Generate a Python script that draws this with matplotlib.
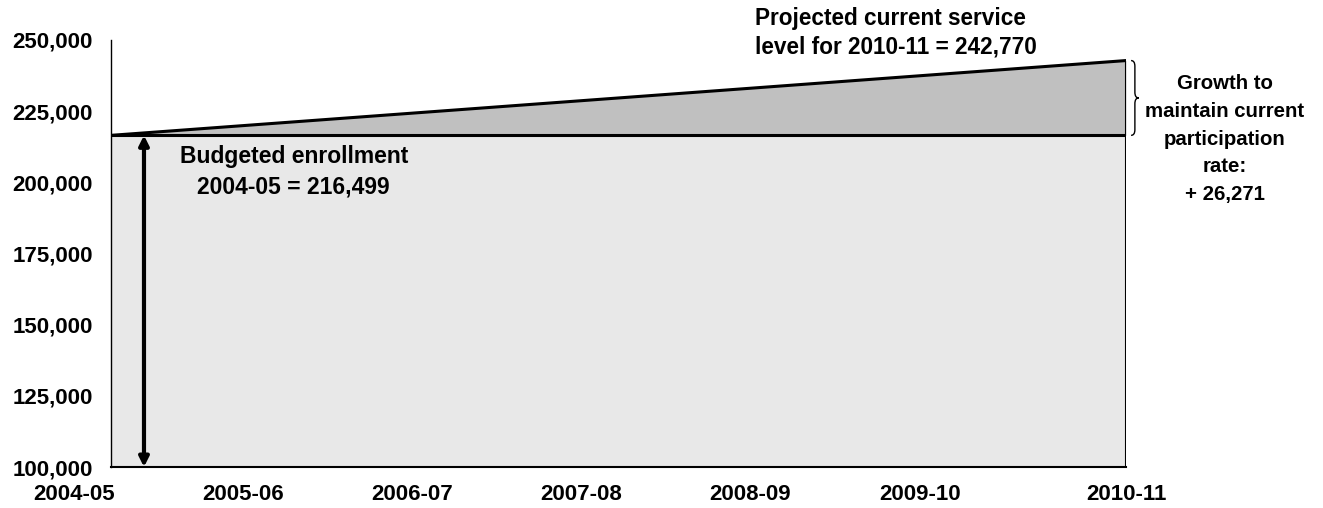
import matplotlib
matplotlib.use('Agg')
import matplotlib.pyplot as plt
from matplotlib.path import Path
from matplotlib.patches import PathPatch

plt.rcParams['font.family'] = ['Liberation Sans', 'DejaVu Sans']
plt.rcParams['font.weight'] = 'bold'

# data
years = ['2004-05', '2005-06', '2006-07', '2007-08', '2008-09', '2009-10', '2010-11']
budgeted_2004 = 216499
projected_2010 = 242770
growth = projected_2010 - budgeted_2004  # 26,271
y_ticks = [100000, 125000, 150000, 175000, 200000, 225000, 250000]

ymin, ymax = 100000, 250000
x_end = len(years) - 1

fig = plt.figure(figsize=(13.23, 5.08), dpi=100)
ax = fig.add_axes([0.0839, 0.0807, 0.7672, 0.8406])

# base enrollment area
ax.fill_between([0, x_end], [budgeted_2004, budgeted_2004], ymin,
                color='#e8e8e8', lw=0)
# growth triangle
ax.fill_between([0, x_end], [budgeted_2004, projected_2010],
                [budgeted_2004, budgeted_2004], color='#c0c0c0', lw=0)

ax.plot([0, x_end], [budgeted_2004, projected_2010], color='black', lw=2.2)
ax.plot([0, x_end], [budgeted_2004, budgeted_2004], color='black', lw=2.2)
ax.plot([x_end, x_end], [ymin, projected_2010], color='black', lw=1.5)
ax.plot([0, x_end], [ymin, ymin], color='black', lw=1.5, clip_on=False)

# double arrow for budgeted enrollment
ax.annotate('', xy=(0.195, ymin), xytext=(0.195, budgeted_2004),
            arrowprops=dict(arrowstyle='<|-|>', lw=3, color='black',
                            mutation_scale=14, shrinkA=0, shrinkB=0))

# curly brace on right
bx = x_end + 0.03
bw = 0.045
ymid = (budgeted_2004 + projected_2010) / 2
dy = 2000
verts = [(bx, projected_2010),
         (bx + bw / 2, projected_2010), (bx + bw / 2, projected_2010 - dy),
         (bx + bw / 2, ymid + dy),
         (bx + bw / 2, ymid), (bx + bw, ymid),
         (bx + bw / 2, ymid), (bx + bw / 2, ymid - dy),
         (bx + bw / 2, budgeted_2004 + dy),
         (bx + bw / 2, budgeted_2004), (bx, budgeted_2004)]
codes = [Path.MOVETO, Path.CURVE3, Path.CURVE3, Path.LINETO,
         Path.CURVE3, Path.CURVE3, Path.CURVE3, Path.CURVE3,
         Path.LINETO, Path.CURVE3, Path.CURVE3]
ax.add_patch(PathPatch(Path(verts, codes), fill=False, lw=1, color='black',
                       clip_on=False))

ax.text(1.08, 203600, 'Budgeted enrollment\n2004-05 = {:,}'.format(budgeted_2004),
        ha='center', va='center', fontsize=16.5, fontweight='bold',
        linespacing=1.4)
ax.text(3.806, 252600,
        'Projected current service\nlevel for 2010-11 = {:,}'.format(projected_2010),
        ha='left', va='center', fontsize=16.3, fontweight='bold', clip_on=False,
        linespacing=1.28)
ax.text(6.585, 215200,
        'Growth to\nmaintain current\nparticipation\nrate:\n+ {:,}'.format(growth),
        ha='center', va='center', fontsize=14.7, fontweight='bold',
        linespacing=1.58)

ax.set_ylim(ymin, ymax)
ax.set_yticks(y_ticks)
ax.set_yticklabels(['{:,}'.format(v) for v in y_ticks], fontsize=16,
                   fontweight='bold')
ax.set_xticks(range(len(years)))
ax.set_xticklabels([])
ax.set_xlim(0, x_end)

# category labels sit a bit left of their ticks, last one on the edge
label_pos = [i - 0.22 for i in range(x_end)] + [x_end]
for pos, lab in zip(label_pos, years):
    ax.text(pos, -0.065, lab, transform=ax.get_xaxis_transform(),
            ha='center', va='center', fontsize=16, fontweight='bold')

ax.tick_params(axis='both', length=0)
ax.tick_params(axis='y', pad=13)

for s in ['top', 'right', 'bottom']:
    ax.spines[s].set_visible(False)
ax.spines['left'].set_linewidth(1)

fig.savefig('out.png', dpi=100)
